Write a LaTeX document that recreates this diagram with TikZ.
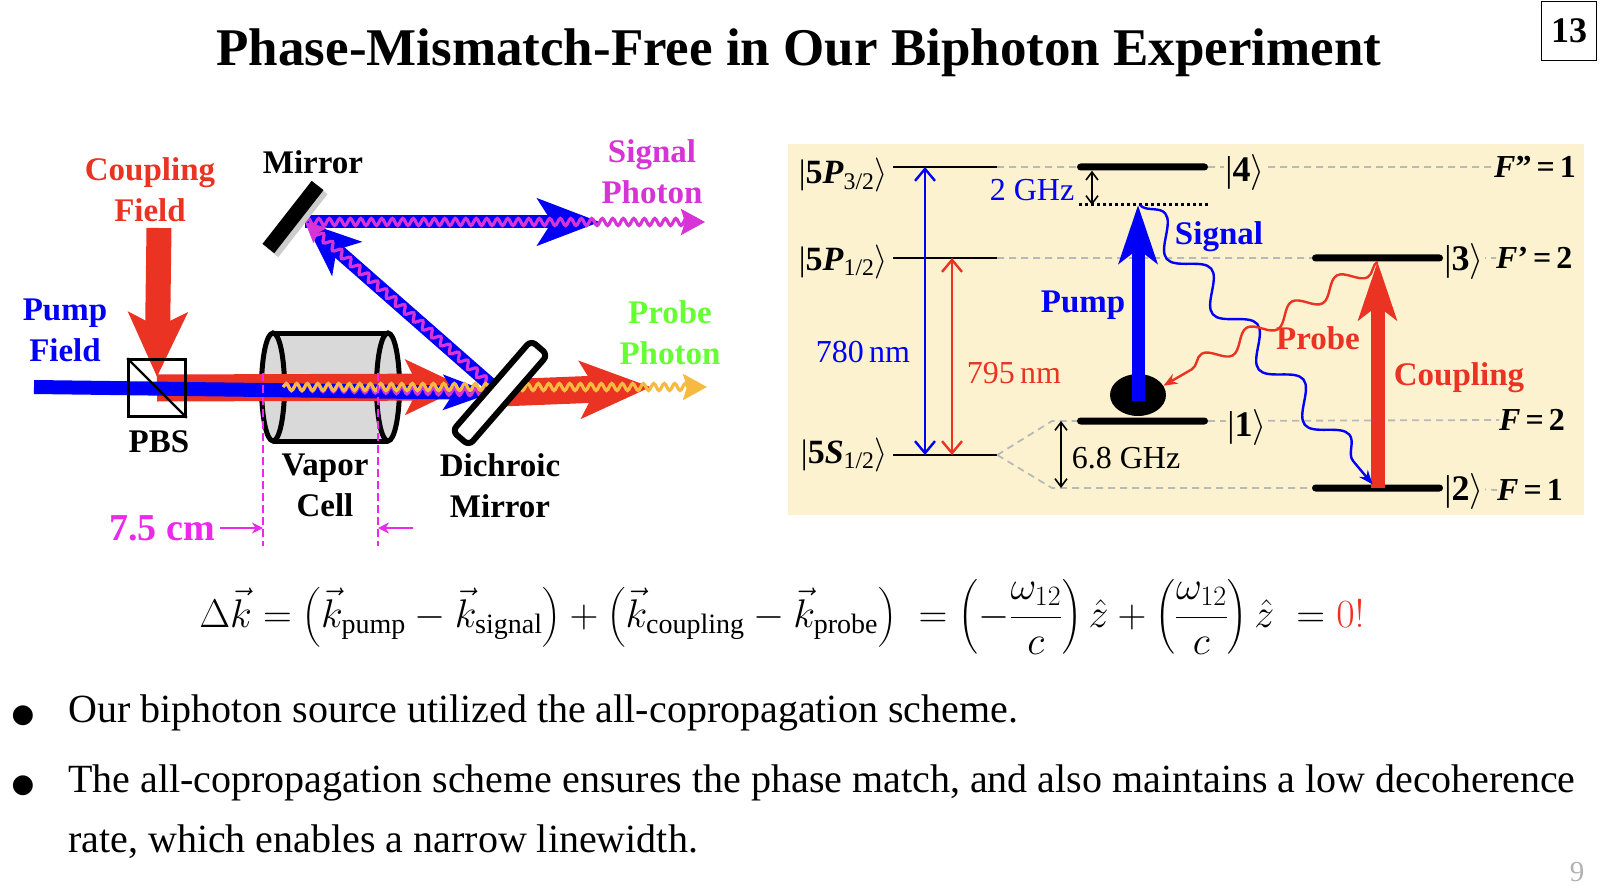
\documentclass[tikz,border=0pt]{standalone}
\usepackage{fix-cm}
\usepackage{amsmath}
\usepackage{fontspec}
\setmainfont{Liberation Serif}
\newfontfamily\dejavu{DejaVu Sans}
\usetikzlibrary{arrows.meta,decorations.pathmorphing,shapes.geometric,positioning}
\definecolor{pumpblue}{RGB}{0,0,250}
\definecolor{cplred}{RGB}{234,51,35}
\definecolor{sigmag}{RGB}{214,52,214}
\definecolor{cmmag}{RGB}{236,40,236}
\definecolor{prbgreen}{RGB}{102,255,51}
\definecolor{prbyel}{RGB}{246,186,64}
\definecolor{panelbg}{RGB}{253,242,208}
\definecolor{cellgray}{RGB}{217,217,217}
\definecolor{dashgray}{RGB}{185,185,185}
\newcommand{\kt}[1]{|#1$\rangle$}
\newcommand{\hfl}[2]{\textbf{\textit{F}#1}\kern5pt\textbf{=}\kern5pt\textbf{#2}}
\begin{document}
\begin{tikzpicture}[x=1pt,y=-1pt,
  lab/.style={font=\fontsize{33}{41}\selectfont\bfseries,align=center,inner sep=0pt},
  txt/.style={font=\fontsize{32}{38}\selectfont,inner sep=0pt},
  ket/.style={font=\fontsize{36}{42}\selectfont,inner sep=1pt,fill=panelbg},
  fat/.style n args={5}{draw=#1,line width=#2,-{Stealth[length=#3,width=#4,inset=#5]}},
  wig/.style n args={3}{draw=#1,line width=3.2pt,decorate,decoration={snake,amplitude=#2,segment length=#3,post length=6pt}},
  thinlvl/.style={fill=black,minimum width=104pt,minimum height=2.4pt,inner sep=0pt},
  lvlbar/.style={fill=black,minimum width=131pt,minimum height=7pt,inner sep=0pt,rounded corners=3.5pt},
  guide/.style={draw=dashgray,line width=1.8pt,dash pattern=on 7pt off 5pt},
  splitarr/.style={line width=1.6pt,{Straight Barb[length=8pt,width=12pt]}-{Straight Barb[length=8pt,width=12pt]}},
  nmarr/.style={draw=#1,line width=2.4pt,{Straight Barb[length=12pt,width=20pt]}-{Straight Barb[length=12pt,width=20pt]}},
  photon/.style n args={4}{draw=#1,line width=2.4pt,decorate,decoration={snake,amplitude=#2,segment length=#3,post length=12pt,#4},-{Stealth[length=14pt,width=11pt]}},
  bodytxt/.style={anchor=base west,font=\fontsize{40}{48}\selectfont,inner sep=0pt},
  bul/.style={anchor=base,font=\fontsize{26}{32}\dejavu,inner sep=0pt}]
\useasboundingbox (0,0) rectangle (1600,893);
\node[font=\fontsize{53}{60}\selectfont\bfseries] (title) at (799,53) {Phase-Mismatch-Free in Our Biphoton Experiment};
\node[draw,line width=1.4pt,minimum width=55pt,minimum height=59pt,inner sep=0pt,font=\fontsize{36}{40}\selectfont\bfseries] (slideno) at (1569,31) {13};

\coordinate (cellL) at (273,387); \coordinate (cellR) at (388,387);
\fill[cellgray] (273,333) rectangle (388,441);
\draw[line width=5pt,fill=cellgray] (cellR) ellipse [x radius=11.5,y radius=54];
\draw[line width=5pt] (273,333) -- (388,333) (273,441) -- (388,441);
\draw[line width=5pt,fill=cellgray] (cellL) ellipse [x radius=11.5,y radius=54];

\coordinate (pbsc) at (157,388); \coordinate (dmc) at (500,393); \coordinate (hit) at (305,222);
\coordinate (pumpin) at (34,387); \coordinate (cplin) at (159,228);
\coordinate (redend) at (464,387); \coordinate (probeout) at (651,387);
\coordinate (sigout) at (600,222); \coordinate (emit) at (283,387);
\coordinate (yelend) at (707,387); \coordinate (magend) at (705,222);
\draw[fat={cplred}{25pt}{64pt}{58pt}{14pt}] (cplin) -- ([yshift=11pt]pbsc);
\draw[fat={cplred}{27pt}{58pt}{54pt}{13pt}] (pbsc) -- (redend);
\draw[fat={cplred}{27pt}{70pt}{56pt}{15pt}] (dmc) -- (probeout);
\draw[fat={pumpblue}{14pt}{48pt}{34pt}{10pt}] (pumpin) -- ([xshift=-8pt]dmc);
\draw[fat={pumpblue}{14pt}{55pt}{44pt}{13pt}] (dmc) -- (hit);
\draw[fat={pumpblue}{13pt}{62pt}{46pt}{14pt}] (hit) -- (sigout);
\draw[wig={sigmag}{3.5pt}{10.5pt}] (emit) -- (dmc);
\draw[wig={sigmag}{3.5pt}{12pt},-{Stealth[length=20pt,width=20pt,inset=3pt]}] (dmc) -- (hit);
\draw[wig={sigmag}{3.5pt}{10.5pt},-{Stealth[length=24pt,width=26pt,inset=4pt]}] (hit) -- (magend);
\draw[wig={prbyel}{3.5pt}{10.5pt},-{Stealth[length=24pt,width=26pt,inset=4pt]}] (emit) -- (yelend);
\coordinate (dl1) at (263,373); \coordinate (dl2) at (263,546);
\coordinate (dr1) at (378,373); \coordinate (dr2) at (378,546);
\draw[cmmag,line width=2.5pt,dash pattern=on 8pt off 4pt] (dl1) -- (dl2) (dr1) -- (dr2);
\node[draw,line width=2.6pt,minimum size=57pt,inner sep=0pt] (pbs) at (pbsc) {};
\draw[line width=2.2pt] (pbs.north west) -- (pbs.south east);
\node[draw,line width=6pt,fill=white,rounded corners=6pt,minimum width=120pt,minimum height=22pt,inner sep=0pt,rotate=49] (dichroic) at (dmc) {};
\node[fill=gray!40,minimum width=80pt,minimum height=15pt,inner sep=0pt,rotate=52] (mirrorsh) at (297,221) {};
\node[fill=black,minimum width=80pt,minimum height=15pt,inner sep=0pt,rotate=52] (mirror) at (293,217) {};

\node[lab,text=cplred] (cplfield) at (150,190) {Coupling\\Field};
\node[lab] (mirrorlab) at (313,162) {Mirror};
\node[lab,text=sigmag] (sigphoton) at (652,172) {Signal\\Photon};
\node[lab,text=pumpblue] (pumpfield) at (65,330) {Pump\\Field};
\node[lab,text=prbgreen] (prbphoton) at (670,333) {Probe\\Photon};
\node[lab] (pbslab) at (159,442) {PBS};
\node[lab] (celllab) at (325,485) {Vapor\\Cell};
\node[lab] (dmlab) at (500,486) {Dichroic\\Mirror};
\node[lab,text=cmmag,font=\fontsize{38}{44}\selectfont\bfseries] (cmlab) at (162,528) {7.5 cm};
\coordinate (cmr) at (413,528);
\draw[cmmag,line width=2.5pt,-{Stealth[length=11pt,width=11pt]}] ([xshift=5pt]cmlab.east) -- (dl2 |- cmlab);
\draw[cmmag,line width=2.5pt,-{Stealth[length=11pt,width=11pt]}] (cmr) -- (dr2 |- cmlab);

\fill[panelbg] (788,144) rectangle (1584,515);
\node[thinlvl] (p32) at (945,167) {};
\node[thinlvl] (p12) at (945,258) {};
\node[thinlvl] (s12) at (945,455) {};
\node[lvlbar] (l4) at (1142.5,167) {};
\node[lvlbar] (l1) at (1142.5,421) {};
\node[lvlbar] (l3) at (1377.5,258) {};
\node[lvlbar] (l2) at (1377.5,488) {};
\coordinate (virtl) at (1079,205); \coordinate (virtr) at (1208,205);
\coordinate (hfs2) at (1052,421); \coordinate (hfs1) at (1052,488);
\node[txt,anchor=west] (fpp) at (1494,167) {\hfl{”}{1}};
\node[txt,anchor=west] (fp) at (1496,258) {\hfl{’}{2}};
\node[txt,anchor=west] (ff2) at (1499,420) {\hfl{}{2}};
\node[txt,anchor=west] (ff1) at (1497,490) {\hfl{}{1}};
\draw[guide] (p32.east) -- (l4.west) (p12.east) -- (l3.west) (s12.east) -- (hfs2) -- (l1.west) (s12.east) -- (hfs1) -- (l2.west);
\draw[guide] (l4.east) -- (fpp.west) (l1.east) -- (ff2.west) (l3.east) -- (fp.west) (l2.east) -- (ff1.west);
\node[ket,right=16pt of l4,yshift=-6pt] (k4) {\kt{\textbf{4}}};
\node[ket,right=18pt of l1,yshift=-6pt] (k1) {\kt{\textbf{1}}};
\node[ket,right=0pt of l3,yshift=-3pt] (k3) {\kt{\textbf{3}}};
\node[ket,right=0pt of l2,yshift=-3pt] (k2) {\kt{\textbf{2}}};
\node[txt,anchor=base east,font=\fontsize{34}{40}\selectfont] (s5p32) at (888,184) {|\textbf{5\textit{P}}\textsubscript{3/2}$\rangle$};
\node[txt,anchor=base east,font=\fontsize{34}{40}\selectfont] (s5p12) at (888,270) {|\textbf{5\textit{P}}\textsubscript{1/2}$\rangle$};
\node[txt,anchor=base east,font=\fontsize{34}{40}\selectfont] (s5s12) at (888,463) {|\textbf{5\textit{S}}\textsubscript{1/2}$\rangle$};
\draw[nmarr=pumpblue] ([xshift=-20pt]p32.center) -- ([xshift=-20pt]s12.center);
\draw[nmarr=cplred] ([xshift=7pt]p12.center) -- ([xshift=7pt]s12.center);
\draw[line width=3pt,dash pattern=on 3pt off 3pt] (virtl) -- (virtr);
\draw[splitarr] ([xshift=-50.5pt]l4.south) -- ([xshift=13pt]virtl);
\draw[splitarr] ([xshift=9pt]hfs2) -- ([xshift=9pt]hfs1);
\node[ellipse,fill=black,minimum width=56pt,minimum height=42pt,inner sep=0pt] (atom) at (1138,395) {};
\coordinate (virtp) at (atom |- virtl);
\draw[fat={pumpblue}{13pt}{58pt}{38pt}{14pt}] ([yshift=-6pt]atom.center) -- (virtp);
\draw[fat={cplred}{14pt}{58pt}{38pt}{14pt}] (l2.center) -- (l3.south);
\draw[photon={pumpblue}{14pt}{72pt}{}] ([xshift=2pt]virtp) -- ([xshift=-5pt]l2.north);
\draw[photon={cplred}{8.5pt}{52pt}{}] (l3.south) -- (atom.20);
\node[txt,text=pumpblue] (ghz2) at (1032,190) {2 GHz};
\node[lab,text=pumpblue] (pumplbl) at (1083,305) {Pump};
\node[lab,text=pumpblue] (siglbl) at (1219,237) {Signal};
\node[lab,text=cplred] (prblbl) at (1318,338) {Probe};
\node[lab,text=cplred] (cpllbl) at (1459,378) {Coupling};
\node[txt,text=pumpblue] (nm780) at (863,352) {780\,nm};
\node[txt,text=cplred] (nm795) at (1014,373) {795\,nm};
\node[txt] (ghz68) at (1126,458) {6.8 GHz};

\node[anchor=base,font=\fontsize{40}{48}\selectfont] (eqn) at (782,627) {$\displaystyle \Delta\vec{k}=\left(\vec{k}_{\mathrm{pump}}-\vec{k}_{\mathrm{signal}}\right)+\left(\vec{k}_{\mathrm{coupling}}-\vec{k}_{\mathrm{probe}}\right)\;=\left(-\dfrac{\omega_{12}}{c}\right)\hat{z}+\left(\dfrac{\omega_{12}}{c}\right)\hat{z}\;=\textcolor{cplred}{0!}$};
\node[bul] (bul1) at (23,722) {●};
\node[bul] (bul2) at (23,792) {●};
\node[bodytxt] (line1) at (68,722) {Our biphoton source utilized the all-copropagation scheme.};
\node[bodytxt] (line2) at (68,792) {The all-copropagation scheme ensures the phase match, and also maintains a low decoherence};
\node[bodytxt] (line3) at (68,852) {rate, which enables a narrow linewidth.};
\node[text=black!30,font=\fontsize{29}{34}\selectfont] (pageno) at (1577,872) {9};
\end{tikzpicture}
\end{document}
